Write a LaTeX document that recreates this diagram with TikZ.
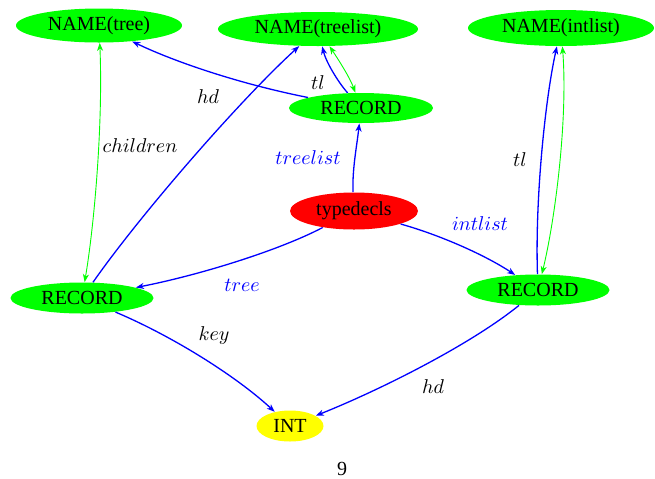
\documentclass[tikz,border=0pt]{standalone}
\usepackage{fontspec}
\setmainfont{Liberation Serif}
\usetikzlibrary{shapes.geometric,arrows.meta}
\definecolor{gG}{RGB}{0,255,0}
\definecolor{bB}{RGB}{0,0,255}
\definecolor{rR}{RGB}{255,0,0}
\definecolor{yY}{RGB}{255,255,0}
\tikzset{
  ell/.style={ellipse,inner sep=0pt,font=\fontsize{10}{12}\selectfont},
  gnode/.style={ell,fill=gG},
  bline/.style={draw=bB,line width=0.65pt,-{Stealth[length=4pt,width=3pt,inset=1.2pt]}},
  gline/.style={draw=gG,line width=0.45pt,{Stealth[length=4pt,width=3pt,inset=1.2pt]}-{Stealth[length=4pt,width=3pt,inset=1.2pt]}},
  lab/.style={inner sep=0pt,font=\fontsize{10}{12}\selectfont},
  blab/.style={lab,text=bB},
}
\begin{document}
\begin{tikzpicture}[x=0.5pt,y=-0.5pt]
\useasboundingbox (0,0) rectangle (655,478);
% nodes
\node[gnode,minimum width=83pt,minimum height=17pt] (ntree) at (99,25.5) {NAME(tree)};
\node[gnode,minimum width=100pt,minimum height=17pt] (ntreelist) at (318,29) {NAME(treelist)};
\node[gnode,minimum width=93pt,minimum height=18pt] (nintlist) at (561,28) {NAME(intlist)};
\node[gnode,minimum width=72pt,minimum height=15pt] (rtl) at (361,108) {RECORD};
\node[ell,fill=rR,minimum width=64pt,minimum height=18.5pt] (td) at (354,211) {typedecls};
\node[gnode,minimum width=71.5pt,minimum height=15.5pt] (rtree) at (82,298) {RECORD};
\node[gnode,minimum width=71.5pt,minimum height=15.5pt] (rint) at (538,290) {RECORD};
\node[ell,fill=yY,minimum width=33.5pt,minimum height=15.5pt] (int) at (290,426) {INT};
% edges
\draw[bline] (rtl) .. controls (240,84) and (175,62) .. (ntree);
\draw[bline] (rtl) .. controls (338,82) and (326,62) .. (ntreelist);
\draw[gline] (ntreelist) .. controls (340,62) and (350,78) .. (rtl);
\draw[bline] (td) .. controls (352,170) and (357,145) .. (rtl);
\draw[bline] (td) .. controls (280,250) and (200,275) .. (rtree);
\draw[bline] (td) .. controls (440,235) and (485,255) .. (rint);
\draw[bline] (rint) .. controls (535,200) and (545,100) .. (nintlist);
\draw[gline] (nintlist) .. controls (568,120) and (555,220) .. (rint);
\draw[bline] (rtree) .. controls (140,215) and (240,100) .. (ntreelist);
\draw[gline] (ntree) .. controls (103,120) and (95,220) .. (rtree);
\draw[bline] (rtree) .. controls (170,335) and (235,375) .. (int);
\draw[bline] (rint) .. controls (470,345) and (380,390) .. (int);
% labels
\node[lab] (l1) at (208,97) {$hd$};
\node[lab] (l2) at (318,83) {$tl$};
\node[lab] (l3) at (140,146) {$children$};
\node[blab] (l4) at (308,158) {$treelist$};
\node[blab] (l5) at (242,285) {$tree$};
\node[blab] (l6) at (480,224) {$intlist$};
\node[lab] (l7) at (520,160) {$tl$};
\node[lab] (l8) at (214,335) {$key$};
\node[lab] (l9) at (433,387) {$hd$};
\node[lab] (pg) at (342,469) {9};
\end{tikzpicture}
\end{document}
